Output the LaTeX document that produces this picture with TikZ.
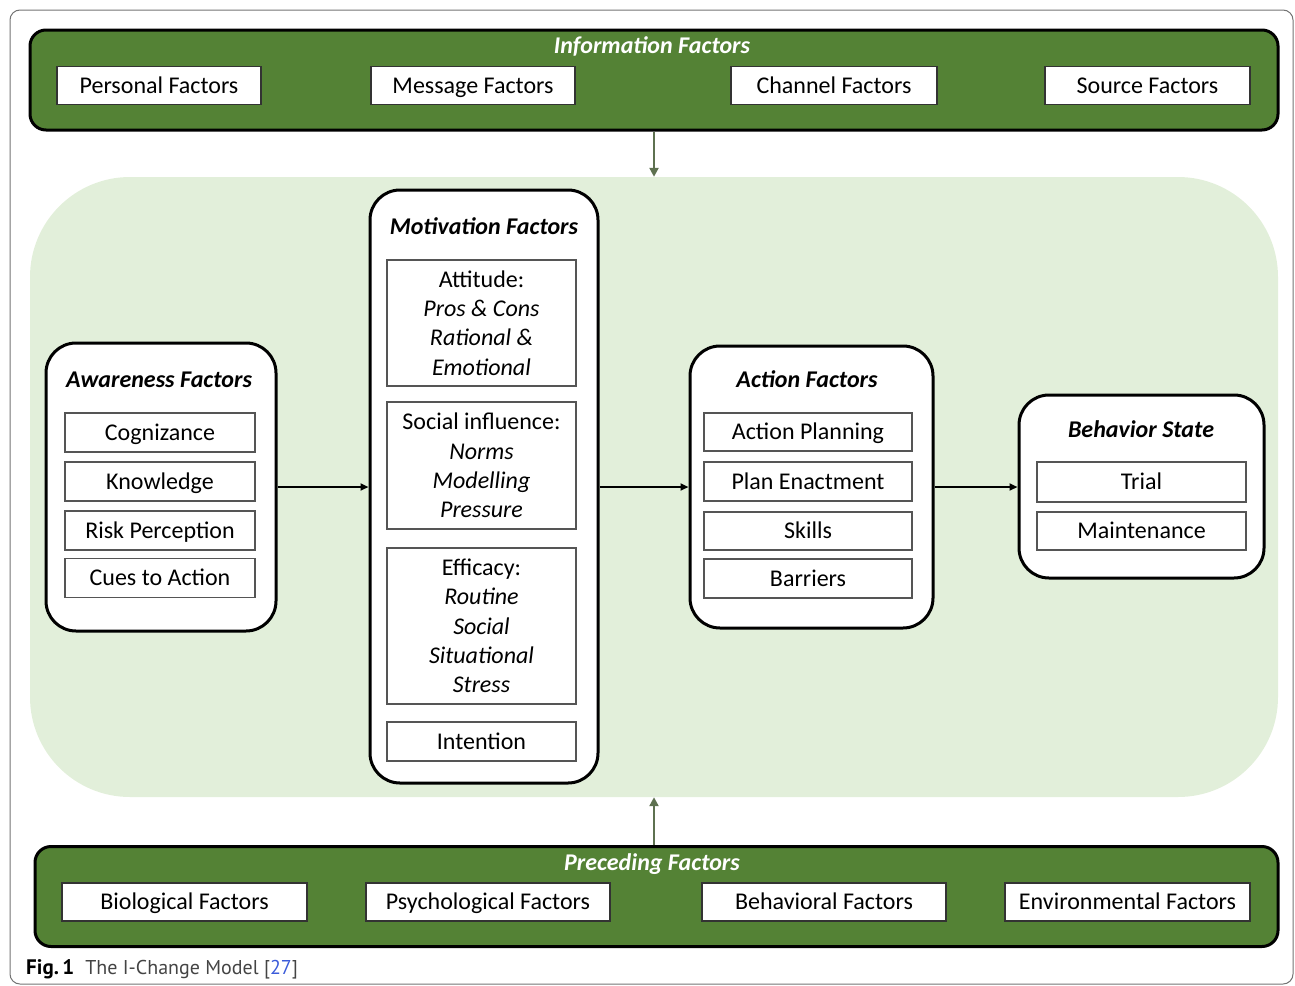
\documentclass[tikz,border=0pt]{standalone}
\usepackage{fontspec}
\setmainfont{Carlito}
\newfontfamily\capfont{PT Sans}
\usetikzlibrary{arrows.meta}
\definecolor{bandgreen}{HTML}{548235}
\definecolor{lightgreen}{HTML}{E2EFDA}
\definecolor{arrowgreen}{HTML}{5E7150}
\definecolor{subgray}{HTML}{555555}
\definecolor{capgray}{HTML}{444444}
\definecolor{refblue}{HTML}{3B5BD9}
\tikzset{
  band/.style={draw=black, line width=3pt, fill=bandgreen, rounded corners=16pt, inner sep=0pt},
  bandbox/.style={draw=black!80, line width=1.3pt, fill=white, inner sep=0pt, minimum height=38pt, font=\fontsize{24}{28}\selectfont, text height=17.5pt, text depth=2pt},
  bandtitle/.style={text=white, font=\fontsize{24}{28}\selectfont\bfseries\itshape, inner sep=0pt},
  group/.style={draw=black, line width=3pt, fill=white, rounded corners=30pt, inner sep=0pt},
  grouptitle/.style={font=\fontsize{24}{28}\selectfont\bfseries\itshape, inner sep=0pt},
  item/.style={draw=subgray, line width=1.3pt, fill=white, inner sep=0pt, align=center, font=\fontsize{24}{29.3}\selectfont},
  oneline/.style={item, text height=17.5pt, text depth=2pt},
  flow/.style={line width=2.2pt, -{Triangle[length=8pt,width=7pt]}},
  feed/.style={draw=arrowgreen, line width=2.6pt, -{Triangle[length=9pt,width=9pt]}, color=arrowgreen}
}
\begin{document}
\begin{tikzpicture}[x=1pt,y=-1pt]
\useasboundingbox (0,0) rectangle (1295,985);
\draw[black!55, line width=1pt, rounded corners=10pt] (10,10) rectangle (1293,984);

% light green region
\node[fill=lightgreen, rounded corners=100pt, minimum width=1248pt, minimum height=620pt, inner sep=0pt] (region) at (654,487) {};

% top band
\node[band, minimum width=1248pt, minimum height=100pt] (topband) at (654,80) {};
\node[bandtitle] (infot) at (652,46) {Information Factors};
\node[bandbox, minimum width=204pt] (pers) at (159,85.5) {Personal Factors};
\node[bandbox, minimum width=204pt] (mess) at (473,85.5) {Message Factors};
\node[bandbox, minimum width=206pt] (chan) at (834,85.5) {Channel Factors};
\node[bandbox, minimum width=205pt] (sour) at (1147.5,85.5) {Source Factors};

% bottom band
\node[band, minimum width=1243pt, minimum height=100pt] (botband) at (656.5,896.5) {};
\node[bandtitle] (prect) at (652,864) {Preceding Factors};
\node[bandbox, minimum width=245pt] (bio) at (184.5,902) {Biological Factors};
\node[bandbox, minimum width=244pt] (psy) at (488,902) {Psychological Factors};
\node[bandbox, minimum width=244pt] (beh) at (824,902) {Behavioral Factors};
\node[bandbox, minimum width=245pt] (env) at (1127.5,902) {Environmental Factors};

\coordinate (mid) at (654,0);
\draw[feed] (topband.south -| mid) -- (region.north -| mid);
\draw[feed] (botband.north -| mid) -- (region.south -| mid);

% awareness
\node[group, minimum width=230pt, minimum height=288pt] (aw) at (161,487) {};
\node[grouptitle] (awt) at (159,380) {Awareness Factors};
\node[oneline, minimum width=190pt, minimum height=39pt] (cog) at (160,432.5) {Cognizance};
\node[oneline, minimum width=190pt, minimum height=39pt] (kno) at (160,481.5) {Knowledge};
\node[oneline, minimum width=190pt, minimum height=39pt] (risk) at (160,530.5) {Risk Perception};
\node[oneline, minimum width=190pt, minimum height=39pt] (cues) at (160,578) {Cues to Action};

% motivation
\node[group, minimum width=228pt, minimum height=593pt] (mot) at (484,486.5) {};
\node[grouptitle] (mott) at (484,226) {Motivation Factors};
\node[item, minimum width=189pt, minimum height=126pt] (att) at (481.5,323) {Attitude:\\\itshape Pros \& Cons\\\itshape Rational \&\\\itshape Emotional};
\node[item, minimum width=189pt, minimum height=127pt] (soc) at (481.5,465.5) {Social influence:\\\itshape Norms\\\itshape Modelling\\\itshape Pressure};
\node[item, minimum width=189pt, minimum height=156pt] (eff) at (481.5,626) {Efficacy:\\\itshape Routine\\\itshape Social\\\itshape Situational\\\itshape Stress};
\node[oneline, minimum width=189pt, minimum height=39pt] (intn) at (481.5,741.5) {Intention};

% action
\node[group, minimum width=243pt, minimum height=282pt] (act) at (811.5,487) {};
\node[grouptitle] (actt) at (807,379) {Action Factors};
\node[oneline, minimum width=208pt, minimum height=38pt] (ap) at (808,432) {Action Planning};
\node[oneline, minimum width=208pt, minimum height=39pt] (pe) at (808,481.5) {Plan Enactment};
\node[oneline, minimum width=208pt, minimum height=38pt] (sk) at (808,531) {Skills};
\node[oneline, minimum width=208pt, minimum height=39pt] (bar) at (808,578.5) {Barriers};

% behavior
\node[group, minimum width=245pt, minimum height=183pt] (bs) at (1141.5,486.5) {};
\node[grouptitle] (bst) at (1141,429) {Behavior State};
\node[oneline, minimum width=209pt, minimum height=40pt] (tri) at (1141.5,482) {Trial};
\node[oneline, minimum width=209pt, minimum height=38pt] (mai) at (1141.5,531) {Maintenance};

% flows
\draw[flow] (aw.east |- 0,487) -- (mot.west |- 0,487);
\draw[flow] (mot.east |- 0,487) -- (act.west |- 0,487);
\draw[flow] (act.east |- 0,487) -- (bs.west |- 0,487);

% caption
\node[anchor=base west, inner sep=0pt, font=\capfont\fontsize{20}{24}\selectfont] (cap) at (26,974) {{\fontsize{21}{24}\selectfont\textbf{Fig.\,1}}\hspace{11pt}\textcolor{capgray}{The I-Change Model [\textcolor{refblue}{27}]}};
\end{tikzpicture}
\end{document}
